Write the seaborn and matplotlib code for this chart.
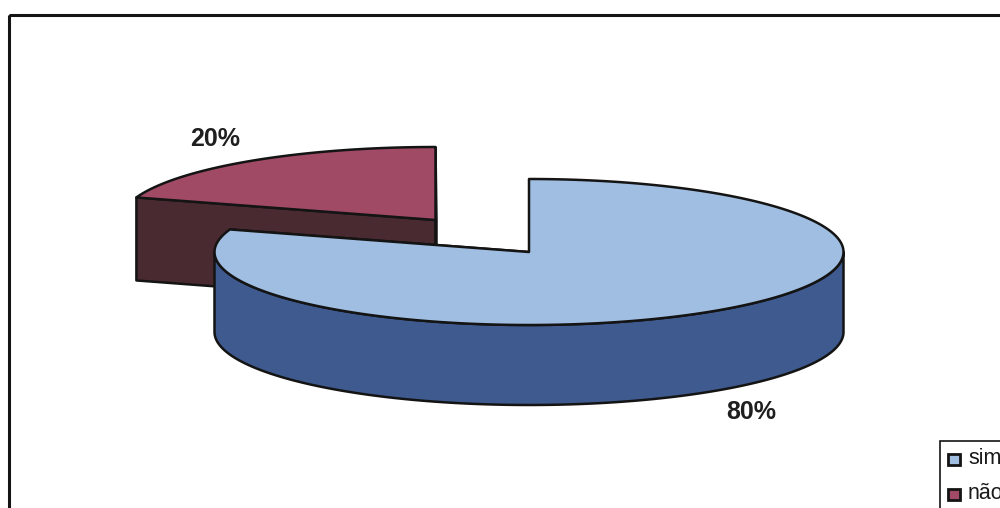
import numpy as np
import matplotlib
matplotlib.use("Agg")
import matplotlib.pyplot as plt
from matplotlib.patches import Rectangle
import seaborn as sns

categories = ["sim", "não"]
shares = [80, 20]

sns.set_theme(style="white")
plt.rcParams["font.family"] = ["Liberation Sans", "DejaVu Sans"]

top_colors = sns.color_palette(["#a0bee2", "#a04a66"])
side_colors = sns.color_palette(["#3f5a8e", "#4a2a31"])
INK = "#141414"

W, H = 1000, 508
fig = plt.figure(figsize=(W / 100, H / 100), dpi=100)
ax = fig.add_axes([0, 0, 1, 1])
ax.set_xlim(0, W)
ax.set_ylim(H, 0)
ax.axis("off")

# Pie geometry in figure pixels: each slice has its own exploded centre
RX, RY = 314.5, 73
DEPTH = {"sim": 80, "não": 83}
CENTRE = {"sim": (529, 252), "não": (435.5, 220)}


def rim(cx, cy, a0, a1, n=240):
    """Points along the top ellipse, angles in degrees counter-clockwise."""
    t = np.radians(np.linspace(a0, a1, n))
    return cx + RX * np.cos(t), cy - RY * np.sin(t)


def slice_angles():
    """Slices run clockwise from 12 o'clock."""
    total = sum(shares)
    start = 90.0
    spans = []
    for value in shares:
        end = start - 360.0 * value / total
        spans.append((start, end))
        start = end
    return spans


def draw_slice(name, a0, a1, top, side):
    cx, cy = CENTRE[name]
    d = DEPTH[name]
    style = dict(edgecolor=INK, linewidth=1.8, joinstyle="round")
    x, y = rim(cx, cy, a0, a1)

    # Flat cut faces, seen only where they turn towards the viewer
    for ang in (a0, a1):
        ex, ey = rim(cx, cy, ang, ang, 1)
        ax.fill([cx, ex[0], ex[0], cx], [cy, ey[0], ey[0] + d, cy + d],
                facecolor=side, **style)

    # Curved wall: the lower half of the rim
    lo, hi = min(a0, a1), max(a0, a1)
    for k in range(-1, 2):
        w0, w1 = max(lo, 180 + 360 * k), min(hi, 360 + 360 * k)
        if w0 < w1:
            wx, wy = rim(cx, cy, w0, w1)
            ax.fill(np.r_[wx, wx[::-1]], np.r_[wy, wy[::-1] + d],
                    facecolor=side, **style)

    ax.fill(np.r_[cx, x], np.r_[cy, y], facecolor=top, **style)


spans = slice_angles()
# The red slice sits behind, the blue one in front
draw_slice(categories[1], *spans[1], top_colors[1], side_colors[1])
draw_slice(categories[0], *spans[0], top_colors[0], side_colors[0])

# Value labels
label_style = dict(fontsize=18, fontweight="bold", color="#1f1f1f",
                   ha="center", va="center")
ax.text(751, 412, f"{shares[0]}%", **label_style)
ax.text(215, 139, f"{shares[1]}%", **label_style)

# Chart frame, running past the right and bottom edges
ax.add_patch(Rectangle((9, 15), 1100, 600, fill=False, edgecolor=INK,
                       linewidth=2.2, clip_on=False))

# Legend box with its swatches
ax.add_patch(Rectangle((939.5, 441), 100, 100, facecolor="white",
                       edgecolor=INK, linewidth=1.2, zorder=3))
for name, colour, y in zip(categories, top_colors, (459, 494)):
    ax.add_patch(Rectangle((948, y - 5.5), 12, 11, facecolor=colour,
                           edgecolor=INK, linewidth=2, zorder=4))
    ax.text(968, y - 0.5, name, fontsize=15.5, color="#1a1a1a", ha="left",
            va="center", zorder=4)

fig.savefig("out.png", dpi=100, facecolor="white")
